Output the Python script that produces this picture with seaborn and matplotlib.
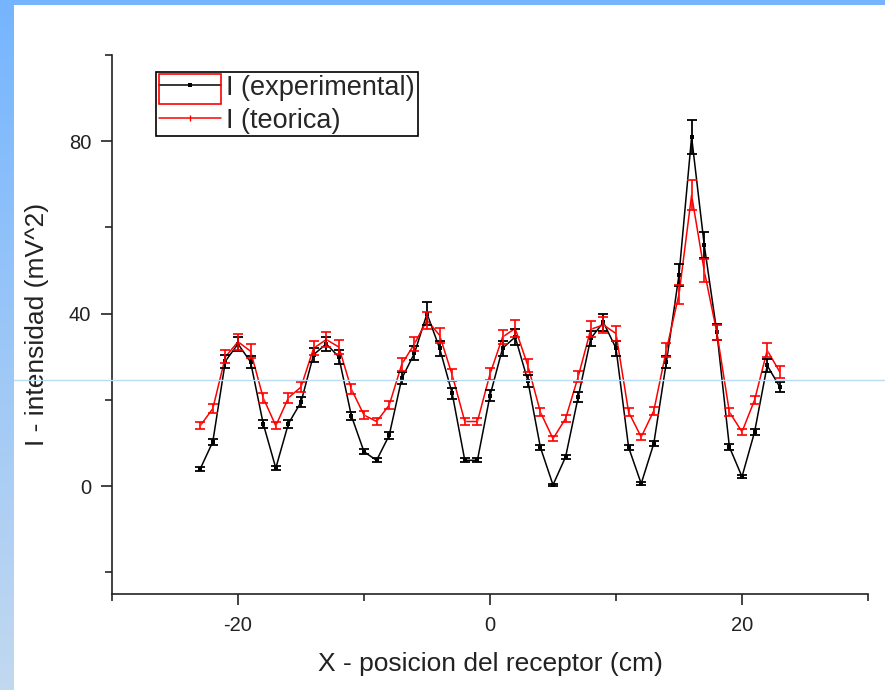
import matplotlib
matplotlib.use("Agg")
import matplotlib.pyplot as plt
from matplotlib.patches import Rectangle
from matplotlib.lines import Line2D
from matplotlib.ticker import MultipleLocator
import seaborn as sns
import numpy as np
import pandas as pd

# receiver position (cm)
x_pos = list(range(-23, 24))

# I (experimental)
i_exp = [4, 10.3, 29, 33, 28.8, 14.5, 4.2, 14.5, 19.5, 30.5, 33, 30, 16.3, 8, 6, 11.8,
         25, 30.8, 40, 32, 21.5, 6, 6, 21, 32, 34.6, 24.5, 9, 0.3, 6.8, 20.7, 34.3,
         38, 32, 9, 0.6, 9.9, 28.8, 49, 81, 56, 35.8, 9.1, 2.2, 12.6, 28, 23]
err_exp = [0.5, 0.7, 1.5, 1.7, 1.5, 0.9, 0.5, 0.9, 1.1, 1.6, 1.7, 1.6, 1.0, 0.6, 0.5, 0.8,
           1.4, 1.6, 2.7, 1.7, 1.2, 0.5, 0.5, 1.2, 1.7, 1.8, 1.4, 0.6, 0.3, 0.5, 1.2, 1.8,
           2.0, 1.7, 0.6, 0.3, 0.6, 1.5, 2.5, 4.0, 3.0, 1.8, 0.6, 0.3, 0.7, 1.5, 1.2]

# I (teorica)
i_teo = [14, 18, 30, 33.5, 31.3, 20.5, 14, 20.5, 23, 32, 34, 32.3, 22.5, 16.5, 15, 18.8,
         28.3, 33, 38.5, 35, 25.8, 15, 15, 26, 34.6, 36.6, 28, 17.2, 11, 15.7, 25.4, 36.4,
         37.4, 35.4, 17.2, 11.4, 17.5, 31.6, 44.5, 67.5, 50, 35.7, 17.2, 12.6, 20, 31.5, 26.5]
err_teo = [0.8, 1.0, 1.5, 1.8, 1.6, 1.1, 0.8, 1.1, 1.2, 1.6, 1.7, 1.6, 1.2, 0.9, 0.8, 1.0,
           1.5, 1.7, 2.0, 1.8, 1.3, 0.8, 0.8, 1.3, 1.7, 1.9, 1.4, 0.9, 0.6, 0.8, 1.3, 1.8,
           1.9, 1.8, 0.9, 0.6, 0.9, 1.6, 2.2, 3.5, 2.6, 1.8, 0.9, 0.7, 1.0, 1.6, 1.4]

df = pd.DataFrame({"x": x_pos, "exp": i_exp, "teo": i_teo})

sns.set_style("ticks")
plt.rcParams["font.family"] = ["Liberation Sans", "DejaVu Sans"]
plt.rcParams["axes.unicode_minus"] = False

fig = plt.figure(figsize=(8.85, 6.9), dpi=100)
ax = fig.add_axes([112 / 885, 1 - 594 / 690, 756 / 885, 539 / 690])

sns.lineplot(data=df, x="x", y="exp", ax=ax, color="black", lw=1.1,
             marker="s", markersize=3.5, markeredgewidth=0, label="I (experimental)")
sns.lineplot(data=df, x="x", y="teo", ax=ax, color="red", lw=1.1,
             marker="|", markersize=5, markeredgewidth=1, label="I (teorica)")
ax.errorbar(df["x"], df["exp"], yerr=err_exp, fmt="none", ecolor="black",
            elinewidth=1.3, capsize=3.5, capthick=1.3, zorder=3)
ax.errorbar(df["x"], df["teo"], yerr=err_teo, fmt="none", ecolor="red",
            elinewidth=1.2, capsize=3.5, capthick=1.2, zorder=4)

ax.set_xlim(-30, 30)
ax.set_ylim(-25, 100)
ax.xaxis.set_minor_locator(MultipleLocator(10))
ax.yaxis.set_minor_locator(MultipleLocator(20))
ax.set_xticks([-20, 0, 20])
ax.set_yticks([0, 40, 80])
ax.tick_params(which="major", length=8, width=1.2, labelsize=14.5, colors="#222222")
ax.tick_params(axis="x", which="major", pad=8)
ax.tick_params(axis="y", which="major", pad=7)
ax.tick_params(which="minor", length=5, width=1.2)
sns.despine(ax=ax)
for s in ["left", "bottom"]:
    ax.spines[s].set_linewidth(1.2)
    ax.spines[s].set_color("#222222")

ax.set_xlabel("X - posicion del receptor (cm)", fontsize=19, color="#222222", labelpad=12)
ax.set_ylabel("I - intensidad (mV^2)", fontsize=19, color="#222222", labelpad=14)

handles = [Line2D([], [], color="black", lw=1.1, marker="s", markersize=3.5, markeredgewidth=0),
           Line2D([], [], color="red", lw=1.1, marker="|", markersize=5)]
leg = ax.legend(handles, ["I (experimental)", "I (teorica)"], loc="upper left",
                bbox_to_anchor=(0.058, 0.968), fontsize=19.5, frameon=True, fancybox=False,
                edgecolor="black", framealpha=1, borderpad=0.1, labelspacing=0.25,
                handlelength=2.3, handletextpad=0.2, borderaxespad=0)
leg.get_frame().set_linewidth(1.2)

# selection box around first legend symbol
fig.add_artist(Rectangle((159 / 885, 1 - 104 / 690), 62 / 885, 30 / 690,
                         transform=fig.transFigure, fill=False, edgecolor="red", lw=1.2))

# window border: blue strip on top and gradient on the left
grad_ax = fig.add_axes([0, 0, 14 / 885, 1])
grad = np.linspace(0, 1, 256).reshape(-1, 1)
top_c = np.array([0.46, 0.71, 1.0])
bot_c = np.array([0.76, 0.85, 0.94])
img = top_c + grad[:, :, None] * (bot_c - top_c)
grad_ax.imshow(img, aspect="auto", extent=[0, 1, 0, 1])
grad_ax.axis("off")
fig.add_artist(Rectangle((0, 1 - 5 / 690), 1, 5 / 690, transform=fig.transFigure,
                         color="#76B4FF", lw=0))
fig.add_artist(Line2D([14 / 885, 1], [1 - 380 / 690] * 2, transform=fig.transFigure,
                      color="#bcdcf4", lw=1))

fig.savefig("out.png", dpi=100)
